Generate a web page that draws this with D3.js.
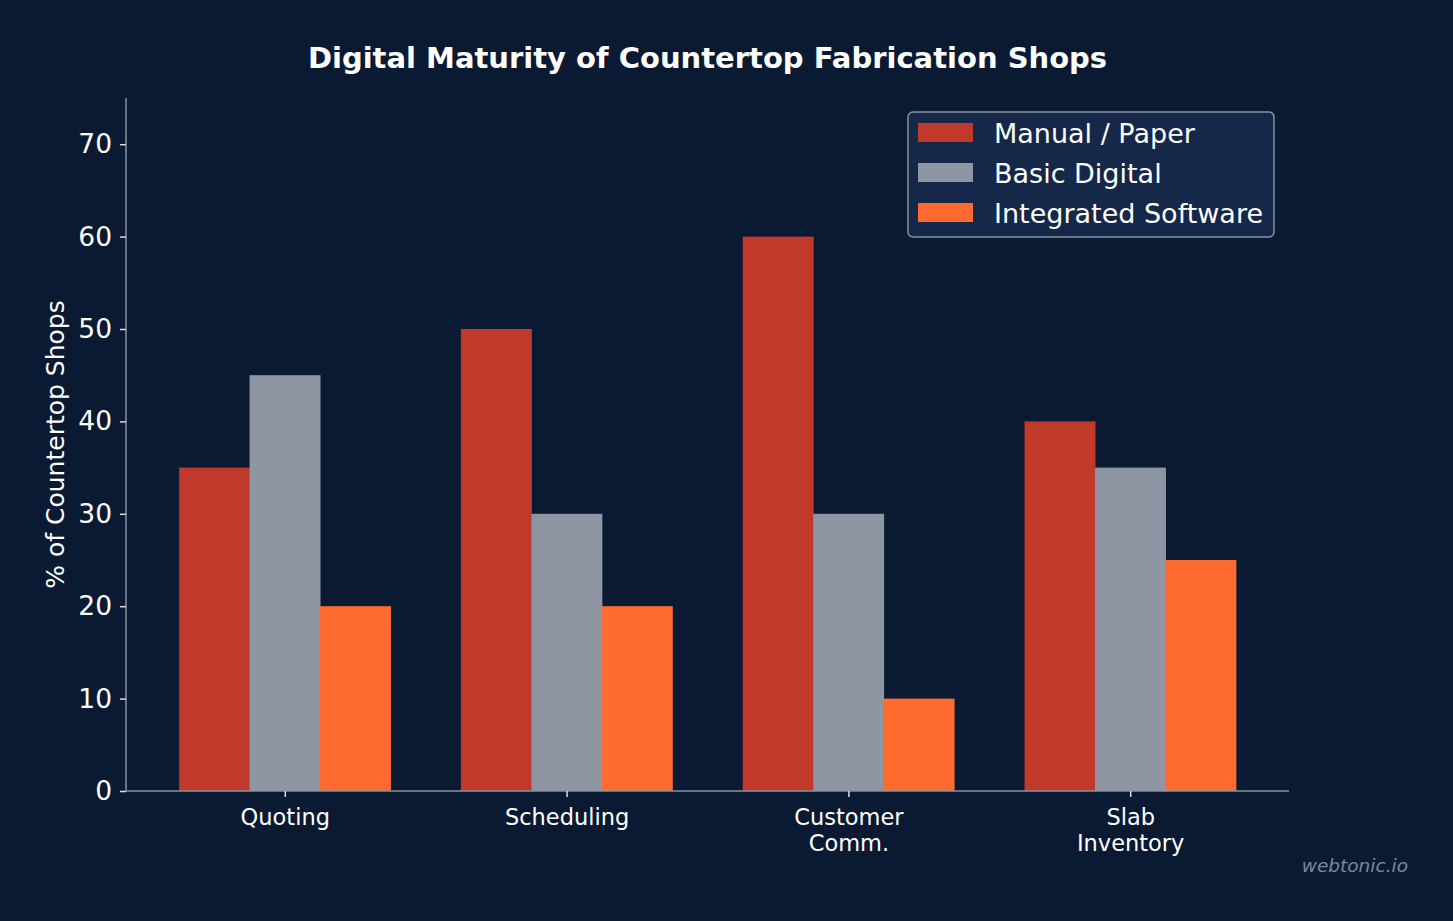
<!DOCTYPE html>
<html>
<head>
<meta charset="utf-8">
<script src="https://cdn.jsdelivr.net/npm/d3@7"></script>
<style>
  html, body { margin: 0; padding: 0; background: #0b1a33; }
  text { font-family: "DejaVu Sans", sans-serif; }
</style>
</head>
<body>
<div id="chart"></div>
<script>
// chart data
var categories = ["Quoting", "Scheduling", "Customer\nComm.", "Slab\nInventory"];
var seriesNames = ["Manual / Paper", "Basic Digital", "Integrated Software"];
var manualPaper = [35, 50, 60, 40];
var basicDigital = [45, 30, 30, 35];
var integratedSoftware = [20, 20, 10, 25];
var yTicks = [0, 10, 20, 30, 40, 50, 60, 70];
var colors = ["#c0392b", "#8e96a4", "#ff6b2e"];

var seriesValues = [manualPaper, basicDigital, integratedSoftware];

var W = 1453, H = 921;
var margin = {top: 98, right: 164, bottom: 130, left: 126},
    width = W - margin.left - margin.right,
    height = H - margin.top - margin.bottom;

var svg = d3.select("#chart").append("svg")
    .attr("width", W)
    .attr("height", H);

svg.append("rect").attr("width", W).attr("height", H).attr("fill", "#0b1a33");

var g = svg.append("g")
    .attr("transform", "translate(" + margin.left + "," + margin.top + ")");

// category positions like matplotlib: index -> x, with margins
var barW = 0.25;
var pad = 0.5 + 0.0635;
var x = d3.scaleLinear()
    .domain([-pad, categories.length - 1 + pad])
    .range([0, width]);

var y = d3.scaleLinear()
    .domain([0, 75])
    .range([height, 0]);

// bars
seriesValues.forEach(function (vals, si) {
  g.append("g")
    .selectAll("rect")
    .data(vals)
    .enter()
    .append("rect")
      .attr("x", function (d, i) { return x(i + (si - 1) * barW - barW / 2); })
      .attr("width", x(barW) - x(0) + 0.5)
      .attr("y", function (d) { return y(d); })
      .attr("height", function (d) { return y(0) - y(d); })
      .attr("fill", colors[si]);
});

// y axis
var yAxis = g.append("g")
    .call(d3.axisLeft(y).tickValues(yTicks).tickSize(6).tickPadding(8));
yAxis.select(".domain").attr("stroke", "#8892a0").attr("stroke-width", 1.5)
    .attr("d", "M0," + height + "V0");
yAxis.selectAll(".tick line").attr("stroke", "#d8dce2").attr("stroke-width", 1.5);
yAxis.selectAll(".tick text").attr("fill", "#ffffff").style("font-size", "26.5px")
    .style("font-family", "DejaVu Sans");

// x axis
var xAxis = g.append("g")
    .attr("transform", "translate(0," + height + ")")
    .call(d3.axisBottom(x).tickValues(d3.range(categories.length)).tickSize(6).tickFormat(""));
xAxis.select(".domain").attr("stroke", "#8892a0").attr("stroke-width", 1.5)
    .attr("d", "M0,0H" + width);
xAxis.selectAll(".tick line").attr("stroke", "#d8dce2").attr("stroke-width", 1.5);

xAxis.selectAll(".tick").each(function (d) {
  var lines = categories[d].split("\n");
  var t = d3.select(this).append("text")
      .attr("fill", "#ffffff")
      .attr("text-anchor", "middle")
      .style("font-size", "22.5px")
      .style("font-family", "DejaVu Sans");
  lines.forEach(function (ln, li) {
    t.append("tspan").attr("x", 0).attr("y", 34 + li * 26).text(ln);
  });
});

// y label
svg.append("text")
    .attr("transform", "translate(64," + (margin.top + height / 2) + ") rotate(-90)")
    .attr("text-anchor", "middle")
    .attr("fill", "#ffffff")
    .style("font-size", "25px")
    .text("% of Countertop Shops");

// title
svg.append("text")
    .attr("x", margin.left + width / 2)
    .attr("y", 68)
    .attr("text-anchor", "middle")
    .attr("fill", "#ffffff")
    .style("font-size", "29px")
    .style("font-weight", "bold")
    .text("Digital Maturity of Countertop Fabrication Shops");

// legend
var lg = svg.append("g").attr("transform", "translate(908,112)");
lg.append("rect")
    .attr("width", 366).attr("height", 125)
    .attr("rx", 5)
    .attr("fill", "#15284a")
    .attr("stroke", "#8892a0")
    .attr("stroke-width", 1.5);
seriesNames.forEach(function (name, i) {
  lg.append("rect")
      .attr("x", 10).attr("y", 11 + i * 40)
      .attr("width", 55).attr("height", 19)
      .attr("fill", colors[i]);
  lg.append("text")
      .attr("x", 86).attr("y", 31 + i * 40)
      .attr("fill", "#ffffff")
      .style("font-size", "27px")
      .text(name);
});

// watermark
svg.append("text")
    .attr("x", 1408)
    .attr("y", 872)
    .attr("text-anchor", "end")
    .attr("fill", "#7f8797")
    .style("font-size", "18.5px")
    .style("font-style", "italic")
    .text("webtonic.io");
</script>
</body>
</html>
